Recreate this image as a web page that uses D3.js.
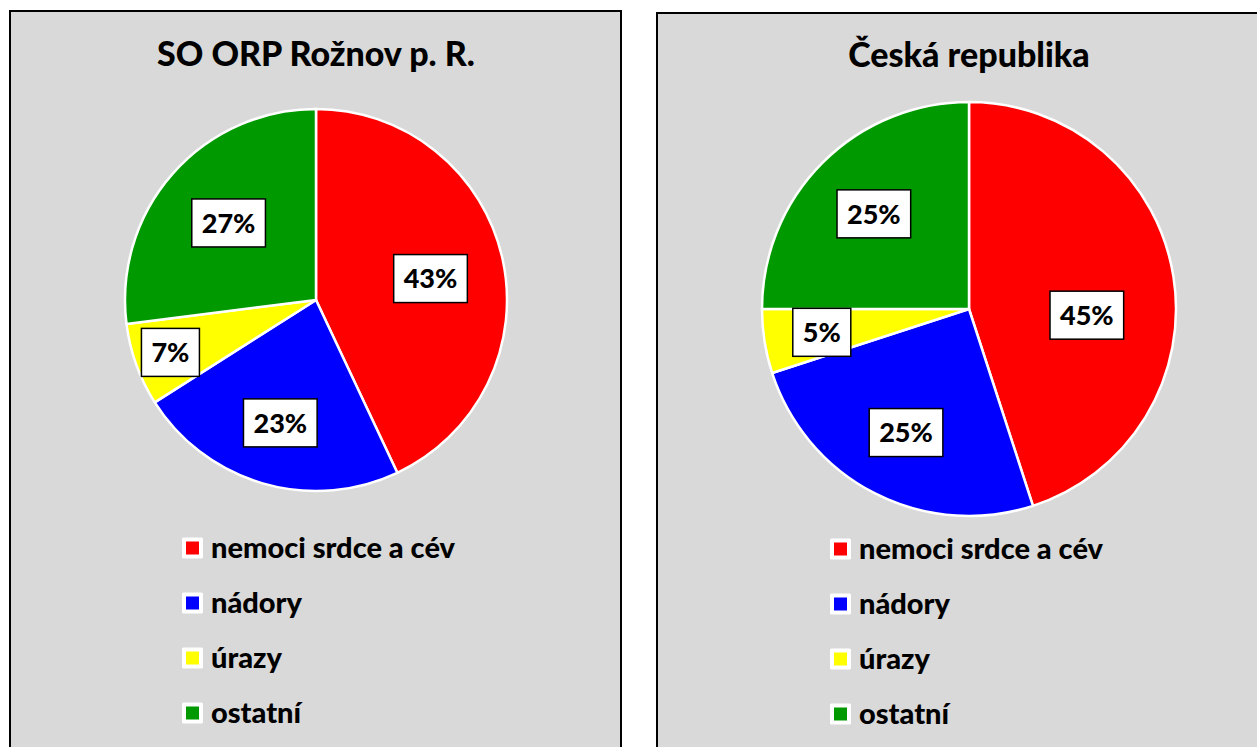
<!DOCTYPE html>
<html>
<head>
<meta charset="utf-8">
<script src="https://cdn.jsdelivr.net/npm/d3@7"></script>
<style>
  body { margin: 0; background: #fff; }
  svg { display: block; }
</style>
</head>
<body>
<div id="chart"></div>
<script>
// Příčiny úmrtí – SO ORP Rožnov p. R. vs. Česká republika

const categories = ["nemoci srdce a cév", "nádory", "úrazy", "ostatní"];
const colors = ["#ff0000", "#0000ff", "#ffff00", "#009900"];
const roznovValues = [43, 23, 7, 27];
const czValues = [45, 25, 5, 25];
const titles = ["SO ORP Rožnov p. R.", "Česká republika"];

const width = 1257;
const height = 747;
const font = "Lato, 'Open Sans', sans-serif";
const weight = 900;

const svg = d3.select("#chart")
    .append("svg")
    .attr("width", width)
    .attr("height", height);

// panel layout (positions only, values live above)
const panels = [
    {
        title: titles[0], values: roznovValues,
        box: { x: 10, y: 11, w: 611, h: 760 },
        cx: 316, cy: 300, r: 191, titleY: 66,
        labelR: [0.61, 0.67, 0.81, 0.61], labelShift: [2, 0, 0, 0],
        legendX: 183, legendY: 548
    },
    {
        title: titles[1], values: czValues,
        box: { x: 657, y: 13, w: 620, h: 760 },
        cx: 969, cy: 309, r: 207, titleY: 67,
        labelR: [0.57, 0.67, 0.72, 0.65], labelShift: [12, 0, 0, 0],
        legendX: 831, legendY: 549
    }
];

const pie = d3.pie().sort(null).value(d => d);

panels.forEach(function (p) {
    const g = svg.append("g");

    g.append("rect")
        .attr("x", p.box.x)
        .attr("y", p.box.y)
        .attr("width", p.box.w)
        .attr("height", p.box.h)
        .attr("fill", "#d9d9d9")
        .attr("stroke", "#000")
        .attr("stroke-width", 2);

    g.append("text")
        .attr("x", p.cx)
        .attr("y", p.titleY)
        .attr("text-anchor", "middle")
        .style("font-family", font)
        .style("font-weight", weight)
        .style("font-size", "34px")
        .style("fill", "#000")
        .text(p.title);

    const arcs = pie(p.values);
    const arc = d3.arc().innerRadius(0).outerRadius(p.r);

    const pieG = g.append("g")
        .attr("transform", `translate(${p.cx},${p.cy})`);

    pieG.selectAll("path")
        .data(arcs)
        .join("path")
        .attr("d", arc)
        .attr("fill", (d, i) => colors[i])
        .attr("stroke", "#fff")
        .attr("stroke-width", 2.5)
        .attr("stroke-linejoin", "round");

    // data labels in white boxes
    const labels = pieG.selectAll("g.lbl")
        .data(arcs)
        .join("g")
        .attr("class", "lbl")
        .attr("transform", (d, i) => {
            const a = (d.startAngle + d.endAngle) / 2 + p.labelShift[i] * Math.PI / 180;
            const rr = p.r * p.labelR[i];
            return `translate(${rr * Math.sin(a)},${-rr * Math.cos(a)})`;
        });

    labels.append("rect");
    labels.append("text")
        .attr("text-anchor", "middle")
        .attr("dy", "0.36em")
        .style("font-family", font)
        .style("font-weight", weight)
        .style("font-size", "27px")
        .style("fill", "#000")
        .text(d => d.data + "%");

    labels.each(function () {
        const el = d3.select(this);
        const bb = el.select("text").node().getBBox();
        el.select("rect")
            .attr("x", -bb.width / 2 - 10)
            .attr("y", -24)
            .attr("width", bb.width + 20)
            .attr("height", 48)
            .attr("fill", "#fff")
            .attr("stroke", "#000")
            .attr("stroke-width", 1.5);
    });

    // legend
    const leg = g.selectAll("g.leg")
        .data(categories)
        .join("g")
        .attr("class", "leg")
        .attr("transform", (d, i) => `translate(${p.legendX},${p.legendY + i * 55})`);

    leg.append("rect")
        .attr("x", -1)
        .attr("y", -10.5)
        .attr("width", 21)
        .attr("height", 21)
        .attr("rx", 1.5)
        .attr("fill", "#fff");

    leg.append("rect")
        .attr("x", 3)
        .attr("y", -6.5)
        .attr("width", 13)
        .attr("height", 13)
        .attr("fill", (d, i) => colors[i]);

    leg.append("text")
        .attr("x", 28)
        .attr("dy", "0.35em")
        .style("font-family", font)
        .style("font-weight", weight)
        .style("font-size", "29px")
        .style("fill", "#000")
        .text(d => d);
});
</script>
</body>
</html>
